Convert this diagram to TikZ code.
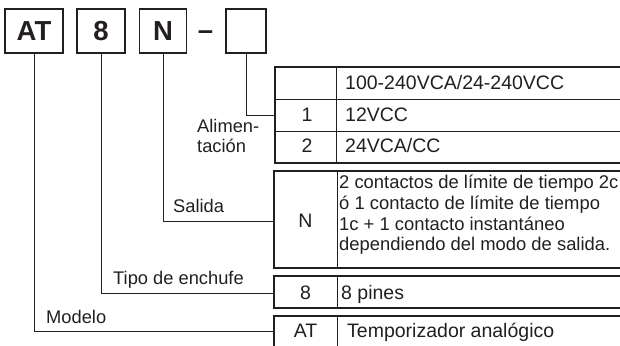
\documentclass[tikz,border=0pt]{standalone}
\usepackage{fontspec}
\setmainfont{Liberation Sans}
\definecolor{ink}{HTML}{231F20}
\begin{document}
\begin{tikzpicture}[x=1pt,y=-1pt,
  codebox/.style={draw=ink, line width=1.6pt, minimum width=#1, minimum height=44pt,
    inner sep=0pt, font=\fontsize{27.5}{27.5}\selectfont\bfseries, text=ink},
  dashtxt/.style={inner sep=0pt, font=\fontsize{27.5}{27.5}\selectfont\bfseries, text=ink},
  leader/.style={draw=ink, line width=0.9pt},
  tframe/.style={draw=ink, line width=1.6pt},
  tgrid/.style={draw=ink, line width=0.9pt},
  ttext/.style={anchor=base west, inner sep=0pt, font=\fontsize{19.5}{20.6}\selectfont, text=ink},
  tcode/.style={anchor=base, inner sep=0pt, font=\fontsize{19.5}{20.6}\selectfont, text=ink},
  lbl/.style={anchor=base west, inner sep=0pt, font=\fontsize{18.3}{20}\selectfont, text=ink, align=left}]
\useasboundingbox (0,0) rectangle (620,345);

% code boxes
\node[codebox=58pt] (bAT) at (34,31) {AT};
\node[codebox=48pt] (b8) at (101,31) {8};
\node[codebox=47pt] (bN) at (163,31) {N};
\node[dashtxt] (dash) at (205.5,35) {–};
\node[codebox=40pt] (bE) at (246,31) {};

% tables
\begin{scope}
\clip (0,0) rectangle (620,345);
% table 1
\draw[tgrid] (275,99) -- (640,99) (275,131) -- (640,131) (336,67) -- (336,163);
\draw[tframe] (275,67) rectangle (640,163);
% table 2
\draw[tgrid] (337,171) -- (337,268);
\draw[tframe] (274,171) rectangle (640,268);
% table 3
\draw[tgrid] (337,276) -- (337,308);
\draw[tframe] (274,276) rectangle (640,308);
% table 4
\draw[tgrid] (337,316) -- (337,360);
\draw[tframe] (274,316) rectangle (640,360);
\end{scope}

\coordinate (t1) at (275,115);
\coordinate (t2) at (274,221);
\coordinate (t3) at (274,293);
\coordinate (t4) at (274,331);

% leaders
\draw[leader] (bE.south) |- (t1);
\draw[leader] (bN.south) |- (t2);
\draw[leader] (b8.south) |- (t3);
\draw[leader] (bAT.south) |- (t4);

% labels
\node[lbl] (lA) at (197,152) {Alimen-\\tación};
\node[lbl] (lS) at (173,212) {Salida};
\node[lbl] (lT) at (113,284) {Tipo de enchufe};
\node[lbl] (lM) at (46,323) {Modelo};

% table texts
\node[ttext] (r0) at (345,89.3) {100-240VCA/24-240VCC};
\node[tcode] (c1) at (307,121) {1};
\node[ttext] (r1) at (345,121) {12VCC};
\node[tcode] (c2) at (307,152.7) {2};
\node[ttext] (r2) at (345,152.7) {24VCA/CC};

\node[tcode] (cN) at (305.5,227.7) {N};
\node[ttext, font=\fontsize{18.4}{20.6}\selectfont, align=left] (rN) at (339,250.7)
  {2 contactos de límite de tiempo 2c\\ó 1 contacto de límite de tiempo\\1c + 1 contacto instantáneo\\dependiendo del modo de salida.};

\node[tcode] (c8) at (305.5,299) {8};
\node[ttext] (r8) at (341,299) {8 pines};

\node[tcode] (cAT) at (305.5,337) {AT};
\node[ttext] (rAT) at (347,337) {Temporizador analógico};
\end{tikzpicture}
\end{document}
